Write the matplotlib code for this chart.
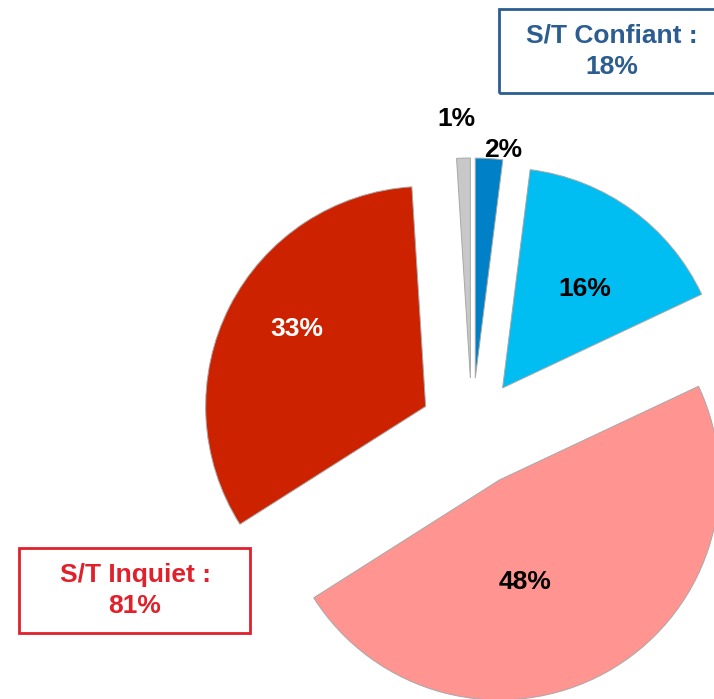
import matplotlib.pyplot as plt
from matplotlib.patches import Rectangle

plt.rcParams['font.family'] = ['Liberation Sans', 'DejaVu Sans']

# parts, clockwise from 12 o'clock
values = [2, 16, 48, 33, 1]
colors = ['#0080C6', '#00BDF2', '#FF9490', '#CC2200', '#C8C8C8']
text_colors = ['black', 'black', 'black', 'white', 'black']

group_labels = ['S/T Confiant :', 'S/T Inquiet :']
group_values = [values[0] + values[1], values[2] + values[3]]
group_colors = ['#2B5D91', '#E0202A']

W, H = 714, 699
fig = plt.figure(figsize=(W / 100, H / 100), dpi=100)
ax = fig.add_axes([0, 0, 1, 1])

# explode is an offset in data units (pixels here)
explode = [52, 52, 57, 52, 52]
wedges, texts, autotexts = ax.pie(
    values, colors=colors, explode=explode, startangle=90, counterclock=False,
    center=(472, H - 430), radius=220, autopct='%d%%', pctdistance=0.6,
    wedgeprops=dict(edgecolor='#A8A8A8', linewidth=0.7),
    textprops=dict(fontsize=19, fontweight='bold'))

# percent labels sit where they read best, not on the bisector
label_pos = [(503, 150), (585, 289), (525, 582), (297, 329), (456, 119)]
for t, (x, y), c in zip(autotexts, label_pos, text_colors):
    t.set_position((x, H - y))
    t.set_color(c)
    t.set_ha('center')
    t.set_va('center')

# group boxes
boxes = [(499, 9, 240, 84, 612), (19, 548, 231, 85, 135)]
for (x0, y0, bw, bh, tx), lab, val, c in zip(boxes, group_labels, group_values, group_colors):
    ax.add_patch(Rectangle((x0, H - y0 - bh), bw, bh, fill=False, edgecolor=c, linewidth=2))
    ax.text(tx, H - y0 - bh / 2, '%s\n%d%%' % (lab, val), color=c, fontsize=19,
            fontweight='bold', ha='center', va='center', linespacing=1.37)

ax.set_xlim(0, W)
ax.set_ylim(0, H)
ax.set_aspect('equal')
ax.axis('off')

fig.savefig('out.png', dpi=100)
